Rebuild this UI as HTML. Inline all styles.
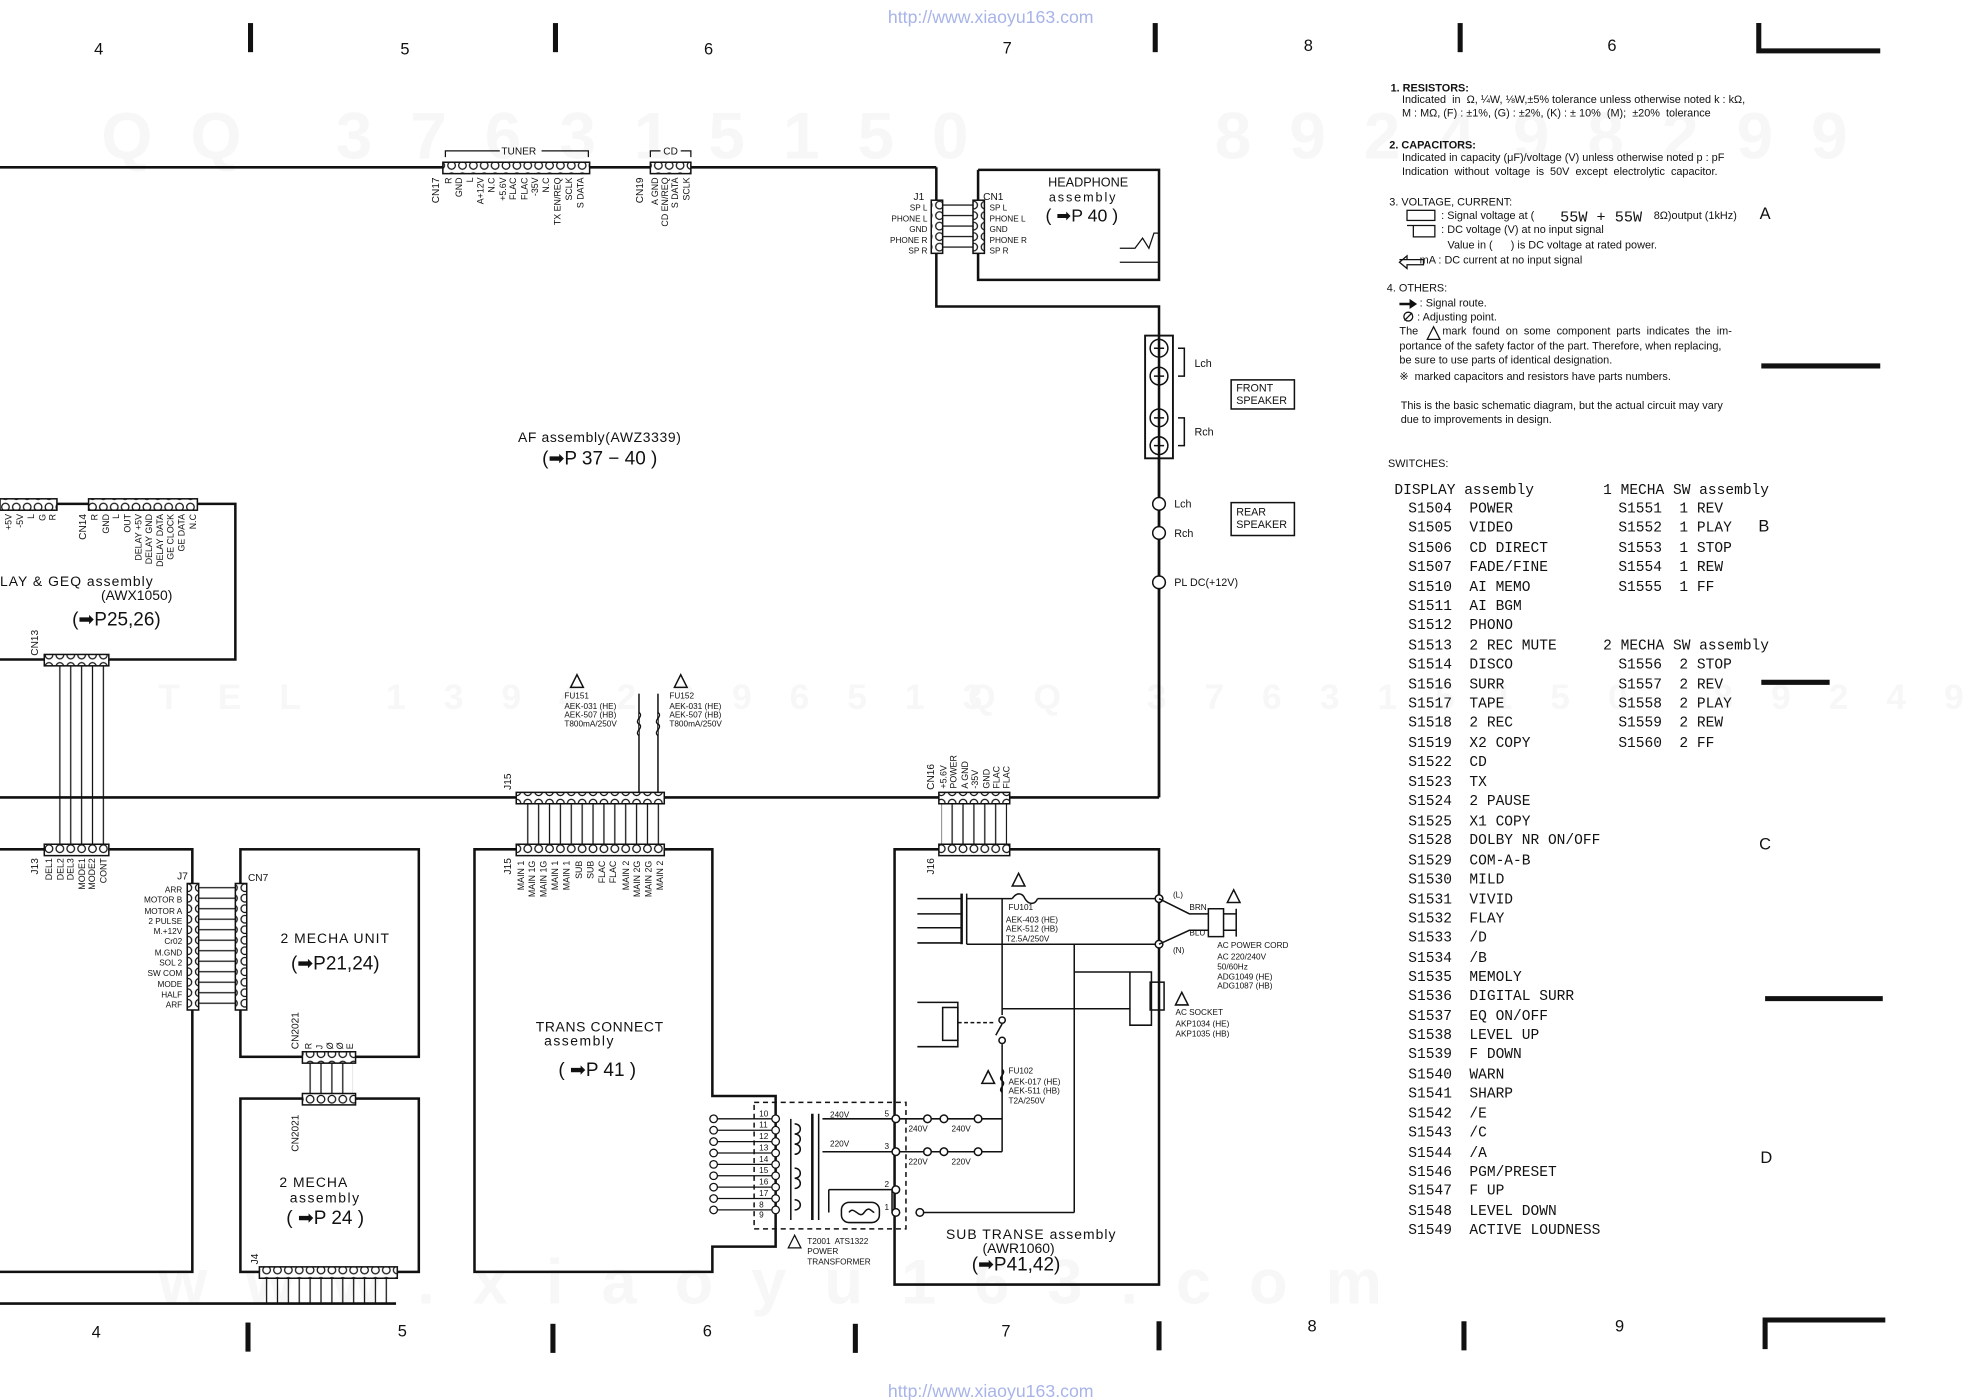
<!DOCTYPE html>
<html><head><meta charset="utf-8"><style>
html,body{margin:0;padding:0;background:#fff;}
svg{display:block;}
text{font-family:"Liberation Sans",sans-serif;fill:#111;white-space:pre;}
text.m{font-family:"Liberation Mono",monospace;}
</style></head><body>
<svg width="1984" height="1400" viewBox="0 0 1568 1106" xmlns="http://www.w3.org/2000/svg" xml:space="preserve">
<defs>
<pattern id="ph" x="0" y="0" width="8.6" height="9" patternUnits="userSpaceOnUse"><rect width="8.6" height="9" fill="#fff"/><circle cx="4.3" cy="4.5" r="3" fill="none" stroke="#111" stroke-width="1"/></pattern>
<pattern id="pv" x="0" y="0" width="9" height="8.3" patternUnits="userSpaceOnUse"><rect width="9" height="8.3" fill="#fff"/><circle cx="4.5" cy="4.15" r="3" fill="none" stroke="#111" stroke-width="1"/></pattern>
<pattern id="wv" x="0" y="0" width="8.6" height="10" patternUnits="userSpaceOnUse"><line x1="4.3" y1="0" x2="4.3" y2="10" stroke="#111" stroke-width="1"/></pattern>
<pattern id="wh" x="0" y="0" width="10" height="8.3" patternUnits="userSpaceOnUse"><line x1="0" y1="4.15" x2="10" y2="4.15" stroke="#111" stroke-width="1"/></pattern>
</defs>
<rect width="1568" height="1106" fill="#fff"/>
<!-- watermarks -->
<g font-weight="bold">
<text x="80" y="125" style="fill:#f7f7f7;font-size:52px;letter-spacing:30px">QQ 376315150</text>
<text x="960" y="125" style="fill:#f7f7f7;font-size:52px;letter-spacing:30px">892498299</text>
<text x="125" y="560" style="fill:#f7f7f7;font-size:28px;letter-spacing:30px">TEL 13942296513</text>
<text x="765" y="560" style="fill:#f7f7f7;font-size:28px;letter-spacing:30px">QQ 376315150 892498299</text>
<text x="125" y="1030" style="fill:#f7f7f7;font-size:50px;letter-spacing:30px">www.xiaoyu163.com</text>
</g>
<!-- URLs -->
<text x="783" y="18" font-size="14" text-anchor="middle" style="fill:#a8b4e8">http://www.xiaoyu163.com</text>
<text x="783" y="1104" font-size="14" text-anchor="middle" style="fill:#a8b4e8">http://www.xiaoyu163.com</text>
<!-- frame ticks -->
<g stroke="#111" stroke-width="4">
<line x1="198" y1="18" x2="198" y2="41"/><line x1="439" y1="18" x2="439" y2="41"/><line x1="913" y1="18" x2="913" y2="41"/><line x1="1154" y1="18" x2="1154" y2="41"/>
<polyline points="1390,18 1390,40 1486,40" fill="none"/>
<line x1="196" y1="1045" x2="196" y2="1068"/><line x1="437" y1="1046" x2="437" y2="1069"/><line x1="676" y1="1046" x2="676" y2="1069"/><line x1="916" y1="1044" x2="916" y2="1067"/><line x1="1157" y1="1044" x2="1157" y2="1067"/>
<polyline points="1395,1066 1395,1043 1490,1043" fill="none"/>
<line x1="1392" y1="289" x2="1486" y2="289"/><line x1="1392" y1="539" x2="1446" y2="539"/><line x1="1395" y1="789" x2="1488" y2="789"/>
</g>
<g font-size="13" text-anchor="middle">
<text x="78" y="43">4</text><text x="320" y="43">5</text><text x="560" y="43">6</text><text x="796" y="42">7</text><text x="1034" y="40">8</text><text x="1274" y="40">6</text>
<text x="76" y="1057">4</text><text x="318" y="1056">5</text><text x="559" y="1056">6</text><text x="795" y="1056">7</text><text x="1037" y="1052">8</text><text x="1280" y="1052">9</text>
<text x="1395" y="173">A</text><text x="1394" y="420">B</text><text x="1395" y="671">C</text><text x="1396" y="919">D</text>
</g>

<g stroke="#111" fill="none" stroke-width="2">
<line x1="0" y1="132" x2="740" y2="132"/>
<polyline points="740,132 740,242 916,242 916,630"/>
<line x1="0" y1="630" x2="916" y2="630"/>
<polyline points="773,134 916,134 916,221 773,221 773,134"/>
<polyline points="0,398 186,398 186,521 0,521"/>
<polyline points="0,671 152,671 152,1005 0,1005"/>
<rect x="190" y="671" width="141" height="164"/>
<rect x="190" y="868" width="141" height="137"/>
<line x1="0" y1="1030" x2="313" y2="1030"/>
<polygon points="375,671 563,671 563,866 613,866 613,985 563,985 563,1005 375,1005"/>
<polygon points="707,671 916,671 916,1015 707,1015"/>
</g>

<g stroke="#111" stroke-width="1.2">
<rect x="350" y="128" width="116" height="9" fill="url(#ph)"/>
<rect x="514" y="128" width="32" height="9" fill="url(#ph)"/>
<rect x="0" y="394" width="45" height="9" fill="url(#ph)"/>
<rect x="70" y="394" width="86" height="9" fill="url(#ph)"/>
<rect x="35" y="517" width="51" height="9" fill="url(#ph)"/>
<rect x="35" y="667" width="51" height="9" fill="url(#ph)"/>
<rect x="40" y="526" width="43" height="141" fill="url(#wv)" stroke="none"/>
<rect x="408" y="626" width="117" height="9" fill="url(#ph)"/>
<rect x="408" y="667" width="117" height="9" fill="url(#ph)"/>
<rect x="410" y="635" width="114" height="32" fill="url(#wv)" stroke="none"/>
<rect x="742" y="626" width="56" height="9" fill="url(#ph)"/>
<rect x="742" y="667" width="56" height="9" fill="url(#ph)"/>
<rect x="744" y="635" width="52" height="32" fill="url(#wv)" stroke="none"/>
<rect x="239" y="831" width="42" height="9" fill="url(#ph)"/>
<rect x="239" y="864" width="42" height="9" fill="url(#ph)"/>
<rect x="241" y="840" width="38" height="24" fill="url(#wv)" stroke="none"/>
<rect x="205" y="1001" width="109" height="9" fill="url(#ph)"/>
<rect x="207" y="1010" width="104" height="20" fill="url(#wv)" stroke="none"/>
<rect x="736" y="158" width="9" height="42" fill="url(#pv)"/>
<rect x="769" y="158" width="9" height="42" fill="url(#pv)"/>
<rect x="745" y="158" width="24" height="42" fill="url(#wh)" stroke="none"/>
<rect x="148" y="698" width="9" height="100" fill="url(#pv)"/>
<rect x="186" y="698" width="9" height="100" fill="url(#pv)"/>
<rect x="157" y="698" width="29" height="100" fill="url(#wh)" stroke="none"/>
</g>

<g stroke="#111" fill="none" stroke-width="1">
<polyline points="352,124 352,119 395,119"/><polyline points="428,119 465,119 465,124"/>
<polyline points="514,124 514,119 522,119"/><polyline points="538,119 546,119 546,124"/>
</g>
<text x="410" y="122" font-size="8" text-anchor="middle">TUNER</text>
<text x="530" y="122" font-size="8" text-anchor="middle">CD</text>

<g font-size="7" text-anchor="end">
<text transform="translate(347,140) rotate(-90)" font-size="8">CN17</text>
<text transform="translate(357,140) rotate(-90)">R</text>
<text transform="translate(365,140) rotate(-90)">GND</text>
<text transform="translate(374,140) rotate(-90)">L</text>
<text transform="translate(382,140) rotate(-90)">A+12V</text>
<text transform="translate(391,140) rotate(-90)">N.C</text>
<text transform="translate(400,140) rotate(-90)">+5.6V</text>
<text transform="translate(408,140) rotate(-90)">FLAC</text>
<text transform="translate(417,140) rotate(-90)">FLAC</text>
<text transform="translate(425,140) rotate(-90)">-35V</text>
<text transform="translate(434,140) rotate(-90)">N.C</text>
<text transform="translate(443,140) rotate(-90)">TX EN/REQ</text>
<text transform="translate(452,140) rotate(-90)">SCLK</text>
<text transform="translate(461,140) rotate(-90)">S DATA</text>
<text transform="translate(508,140) rotate(-90)" font-size="8">CN19</text>
<text transform="translate(520,140) rotate(-90)">A GND</text>
<text transform="translate(528,140) rotate(-90)">CD EN/REQ</text>
<text transform="translate(536,140) rotate(-90)">S DATA</text>
<text transform="translate(545,140) rotate(-90)">SCLK</text>
<text transform="translate(9,406) rotate(-90)">+5V</text>
<text transform="translate(18,406) rotate(-90)">-5V</text>
<text transform="translate(27,406) rotate(-90)">L</text>
<text transform="translate(36,406) rotate(-90)">G</text>
<text transform="translate(44,406) rotate(-90)">R</text>
<text transform="translate(68,406) rotate(-90)" font-size="8">CN14</text>
<text transform="translate(77,406) rotate(-90)">R</text>
<text transform="translate(86,406) rotate(-90)">GND</text>
<text transform="translate(94,406) rotate(-90)">L</text>
<text transform="translate(103,406) rotate(-90)">OUT</text>
<text transform="translate(112,406) rotate(-90)">DELAY +5V</text>
<text transform="translate(120,406) rotate(-90)">DELAY GND</text>
<text transform="translate(129,406) rotate(-90)">DELAY DATA</text>
<text transform="translate(137,406) rotate(-90)">GE CLOCK</text>
<text transform="translate(146,406) rotate(-90)">GE DATA</text>
<text transform="translate(155,406) rotate(-90)">N.C</text>
<text transform="translate(30,678) rotate(-90)" font-size="8">J13</text>
<text transform="translate(41,678) rotate(-90)">DEL1</text>
<text transform="translate(50,678) rotate(-90)">DEL2</text>
<text transform="translate(58,678) rotate(-90)">DEL3</text>
<text transform="translate(67,678) rotate(-90)">MODE1</text>
<text transform="translate(75,678) rotate(-90)">MODE2</text>
<text transform="translate(84,678) rotate(-90)">CONT</text>
<text transform="translate(404,678) rotate(-90)" font-size="8">J15</text>
<text transform="translate(414,680) rotate(-90)">MAIN 1</text>
<text transform="translate(423,680) rotate(-90)">MAIN 1G</text>
<text transform="translate(432,680) rotate(-90)">MAIN 1G</text>
<text transform="translate(441,680) rotate(-90)">MAIN 1</text>
<text transform="translate(450,680) rotate(-90)">MAIN 1</text>
<text transform="translate(460,680) rotate(-90)">SUB</text>
<text transform="translate(469,680) rotate(-90)">SUB</text>
<text transform="translate(478,680) rotate(-90)">FLAC</text>
<text transform="translate(487,680) rotate(-90)">FLAC</text>
<text transform="translate(497,680) rotate(-90)">MAIN 2</text>
<text transform="translate(506,680) rotate(-90)">MAIN 2G</text>
<text transform="translate(515,680) rotate(-90)">MAIN 2G</text>
<text transform="translate(524,680) rotate(-90)">MAIN 2</text>
<text transform="translate(738,678) rotate(-90)" font-size="8">J16</text>
<text transform="translate(236,910) rotate(-90)" font-size="8" text-anchor="start">CN2021</text>
</g>
<g font-size="7" text-anchor="start">
<text transform="translate(30,518) rotate(-90)" font-size="8">CN13</text>
<text transform="translate(404,624) rotate(-90)" font-size="8">J15</text>
<text transform="translate(738,624) rotate(-90)" font-size="8">CN16</text>
<text transform="translate(748,623) rotate(-90)">+5.6V</text>
<text transform="translate(756,623) rotate(-90)">POWER</text>
<text transform="translate(765,623) rotate(-90)">A GND</text>
<text transform="translate(773,623) rotate(-90)">-35V</text>
<text transform="translate(782,623) rotate(-90)">GND</text>
<text transform="translate(790,623) rotate(-90)">FLAC</text>
<text transform="translate(798,623) rotate(-90)">FLAC</text>
<text transform="translate(236,829) rotate(-90)" font-size="8">CN2021</text>
<text transform="translate(246,829) rotate(-90)">R</text>
<text transform="translate(255,829) rotate(-90)">J</text>
<text transform="translate(263,829) rotate(-90)">Ø</text>
<text transform="translate(271,829) rotate(-90)">Ø</text>
<text transform="translate(279,829) rotate(-90)">E</text>
<text transform="translate(204,999) rotate(-90)" font-size="8">J4</text>
</g>

<g font-size="6.5">
<text x="722" y="158" font-size="8">J1</text>
<text x="777" y="158" font-size="8">CN1</text>
<g text-anchor="end"><text x="733" y="166">SP L</text><text x="733" y="175">PHONE L</text><text x="733" y="183">GND</text><text x="733" y="192">PHONE R</text><text x="733" y="200">SP R</text></g>
<text x="782" y="166">SP L</text><text x="782" y="175">PHONE L</text><text x="782" y="183">GND</text><text x="782" y="192">PHONE R</text><text x="782" y="200">SP R</text>
</g>
<text x="860" y="147" font-size="10" text-anchor="middle">HEADPHONE</text>
<text x="856" y="159" font-size="10" text-anchor="middle" letter-spacing="1.5">assembly</text>
<text x="855" y="175" font-size="14" text-anchor="middle">( ➡P 40 )</text>
<polyline points="885,196 897,196 903,188 908,196 912,184 916,184" fill="none" stroke="#111"/>
<line x1="885" y1="207" x2="916" y2="207" stroke="#111"/>

<rect x="905" y="265" width="22" height="97" fill="none" stroke="#111" stroke-width="1.5"/>
<g fill="none" stroke="#111" stroke-width="1.2">
<circle cx="916" cy="275" r="7"/><circle cx="916" cy="297" r="7"/><circle cx="916" cy="330" r="7"/><circle cx="916" cy="352" r="7"/>
<path d="M912 275h8M916 271v8M912 297h8M912 330h8M912 352h8M916 348v8"/>
<polyline points="931,275 936,275 936,297 931,297"/><polyline points="931,330 936,330 936,352 931,352"/>
<line x1="916" y1="362" x2="916" y2="630" stroke-width="2"/>
<circle cx="916" cy="398" r="5" fill="#fff"/><circle cx="916" cy="421" r="5" fill="#fff"/><circle cx="916" cy="460" r="5" fill="#fff"/>
<rect x="973" y="300" width="50" height="23"/><rect x="973" y="397" width="50" height="26"/>
</g>
<g font-size="8.5"><text x="944" y="290">Lch</text><text x="944" y="344">Rch</text><text x="928" y="401">Lch</text><text x="928" y="424">Rch</text><text x="928" y="463">PL DC(+12V)</text>
<text x="977" y="309">FRONT</text><text x="977" y="319">SPEAKER</text><text x="977" y="407">REAR</text><text x="977" y="417">SPEAKER</text></g>

<text x="474" y="349" font-size="11" text-anchor="middle" letter-spacing="0.5">AF assembly(AWZ3339)</text>
<text x="474" y="367" font-size="15" text-anchor="middle">(➡P 37 − 40 )</text>
<text x="0" y="463" font-size="11" letter-spacing="0.8">LAY &amp; GEQ assembly</text>
<text x="108" y="474" font-size="11" text-anchor="middle">(AWX1050)</text>
<text x="92" y="494" font-size="15" text-anchor="middle">(➡P25,26)</text>
<text x="265" y="745" font-size="11" text-anchor="middle" letter-spacing="0.8">2 MECHA UNIT</text>
<text x="265" y="766" font-size="15" text-anchor="middle">(➡P21,24)</text>
<text x="248" y="938" font-size="11" text-anchor="middle" letter-spacing="0.8">2 MECHA</text>
<text x="257" y="950" font-size="11" text-anchor="middle" letter-spacing="1.2">assembly</text>
<text x="257" y="967" font-size="15" text-anchor="middle">( ➡P 24 )</text>
<text x="474" y="815" font-size="11" text-anchor="middle" letter-spacing="0.5">TRANS CONNECT</text>
<text x="458" y="826" font-size="11" text-anchor="middle" letter-spacing="1.2">assembly</text>
<text x="472" y="850" font-size="15" text-anchor="middle">( ➡P 41 )</text>
<text x="815" y="979" font-size="11" text-anchor="middle" letter-spacing="0.8">SUB TRANSE assembly</text>
<text x="805" y="990" font-size="11" text-anchor="middle">(AWR1060)</text>
<text x="803" y="1004" font-size="15" text-anchor="middle">(➡P41,42)</text>

<g font-size="6.5" text-anchor="end">
<text x="144" y="705">ARR</text><text x="144" y="713">MOTOR B</text><text x="144" y="722">MOTOR A</text><text x="144" y="730">2 PULSE</text><text x="144" y="738">M.+12V</text><text x="144" y="746">Cr02</text><text x="144" y="755">M.GND</text><text x="144" y="763">SOL 2</text><text x="144" y="771">SW COM</text><text x="144" y="780">MODE</text><text x="144" y="788">HALF</text><text x="144" y="796">ARF</text>
</g>
<text x="140" y="695" font-size="8">J7</text><text x="196" y="696" font-size="8">CN7</text>

<g stroke="#111" fill="none" stroke-width="1.2">
<line x1="505" y1="548" x2="505" y2="626"/><line x1="520" y1="548" x2="520" y2="626"/>
<path d="M505 563c4 3 -4 6 0 9c4 3 -4 6 0 9M520 563c4 3 -4 6 0 9c4 3 -4 6 0 9" fill="#fff"/>
<path d="M456 533l-5 10h10z M538 533l-5 10h10z"/>
</g>
<g font-size="6.5"><text x="446" y="552">FU151</text><text x="446" y="560">AEK-031 (HE)</text><text x="446" y="567">AEK-507 (HB)</text><text x="446" y="574">T800mA/250V</text>
<text x="529" y="552">FU152</text><text x="529" y="560">AEK-031 (HE)</text><text x="529" y="567">AEK-507 (HB)</text><text x="529" y="574">T800mA/250V</text></g>

<g stroke="#111" fill="none" stroke-width="1.2">
<line x1="725" y1="710" x2="760" y2="710"/><line x1="725" y1="722" x2="760" y2="722"/><line x1="725" y1="733" x2="760" y2="733"/><line x1="725" y1="745" x2="760" y2="745"/>
<line x1="760" y1="706" x2="760" y2="746" stroke-width="2"/><line x1="764" y1="706" x2="764" y2="746"/>
<polyline points="764,710 800,710"/><path d="M800 710c3 -5 8 -5 10 0c3 5 8 5 10 0"/><line x1="820" y1="710" x2="916" y2="710"/>
<line x1="764" y1="746" x2="916" y2="746"/>
<circle cx="916" cy="710" r="3" fill="#fff"/><circle cx="916" cy="746" r="3" fill="#fff"/>
<polyline points="916,710 940,722 955,722"/><polyline points="916,746 940,735 955,735"/>
<path d="M955 718h12v22h-12zM967 722h10M967 735h10M977 718v22"/>
<path d="M975 703l-5 10h10z M805 690l-5 10h10z M934 784l-5 10h10z M781 846l-5 10h10z"/>
<line x1="792" y1="710" x2="792" y2="802"/><line x1="849" y1="746" x2="849" y2="958"/>
<line x1="849" y1="768" x2="893" y2="768"/><line x1="792" y1="797" x2="893" y2="797"/>
<polyline points="893,768 893,810 910,810 910,768 893,768"/><rect x="909" y="776" width="11" height="22"/>
<polyline points="725,792 757,792 757,827 725,827"/><rect x="745" y="796" width="12" height="26"/>
<line x1="757" y1="808" x2="785" y2="808" stroke-dasharray="3 2"/>
<circle cx="792" cy="806" r="2.5"/><line x1="792" y1="809" x2="787" y2="818"/><circle cx="792" cy="822" r="2.5"/>
<line x1="792" y1="825" x2="792" y2="910"/>
<path d="M792 845c4 3 -4 6 0 9c4 3 -4 6 0 9"/>
<line x1="708" y1="884" x2="792" y2="884"/><line x1="708" y1="910" x2="792" y2="910"/>
<circle cx="733" cy="884" r="3" fill="#fff"/><circle cx="746" cy="884" r="3" fill="#fff"/><circle cx="773" cy="884" r="3" fill="#fff"/>
<circle cx="733" cy="910" r="3" fill="#fff"/><circle cx="746" cy="910" r="3" fill="#fff"/><circle cx="773" cy="910" r="3" fill="#fff"/>
<line x1="727" y1="958" x2="849" y2="958"/><circle cx="727" cy="958" r="3" fill="#fff"/>
<rect x="596" y="871" width="120" height="100" stroke-dasharray="4 3"/>
<line x1="642" y1="880" x2="642" y2="964" stroke-width="2"/><line x1="647" y1="880" x2="647" y2="964"/>
<path d="M625 884v80M650 884h58M650 910h58M655 940h50v18M655 940v18"/>
<rect x="665" y="950" width="30" height="16" rx="6"/>
<path d="M671 958c4 -6 8 6 12 0c4 -6 6 0 8 0"/>
<circle cx="708" cy="884" r="3" fill="#fff"/><circle cx="708" cy="910" r="3" fill="#fff"/><circle cx="708" cy="940" r="3" fill="#fff"/><circle cx="708" cy="958" r="3" fill="#fff"/>
<path d="M628 888c6 0 6 8 0 8c6 0 6 8 0 8c6 0 6 8 0 8M628 923c6 0 6 8 0 8c6 0 6 8 0 8M628 948c6 0 6 8 0 8"/>
</g>
<g stroke="#111" stroke-width="1" fill="#fff">
<circle cx="564" cy="884" r="3"/><circle cx="564" cy="893" r="3"/><circle cx="564" cy="902" r="3"/><circle cx="564" cy="911" r="3"/><circle cx="564" cy="920" r="3"/><circle cx="564" cy="929" r="3"/><circle cx="564" cy="938" r="3"/><circle cx="564" cy="947" r="3"/><circle cx="564" cy="956" r="3"/>
<circle cx="613" cy="884" r="3"/><circle cx="613" cy="893" r="3"/><circle cx="613" cy="902" r="3"/><circle cx="613" cy="911" r="3"/><circle cx="613" cy="920" r="3"/><circle cx="613" cy="929" r="3"/><circle cx="613" cy="938" r="3"/><circle cx="613" cy="947" r="3"/><circle cx="613" cy="956" r="3"/>
</g>
<g stroke="#111" stroke-width="1"><path d="M567 884h43M567 893h43M567 902h43M567 911h43M567 920h43M567 929h43M567 938h43M567 947h43M567 956h43"/></g>
<g font-size="6.5">
<text x="600" y="882">10</text><text x="600" y="891">11</text><text x="600" y="900">12</text><text x="600" y="909">13</text><text x="600" y="918">14</text><text x="600" y="927">15</text><text x="600" y="936">16</text><text x="600" y="945">17</text><text x="600" y="954">8</text><text x="600" y="962">9</text>
<text x="656" y="883">240V</text><text x="656" y="906">220V</text><text x="699" y="882">5</text><text x="699" y="908">3</text><text x="699" y="938">2</text><text x="699" y="956">1</text>
<text x="718" y="894">240V</text><text x="752" y="894">240V</text><text x="718" y="920">220V</text><text x="752" y="920">220V</text>
<text x="638" y="983">T2001  ATS1322</text><text x="638" y="991">POWER</text><text x="638" y="999">TRANSFORMER</text>
<text x="797" y="719">FU101</text><text x="795" y="729">AEK-403 (HE)</text><text x="795" y="736">AEK-512 (HB)</text><text x="795" y="744">T2.5A/250V</text>
<text x="797" y="848">FU102</text><text x="797" y="857">AEK-017 (HE)</text><text x="797" y="864">AEK-511 (HB)</text><text x="797" y="872">T2A/250V</text>
<text x="927" y="709">(L)</text><text x="927" y="753">(N)</text><text x="940" y="719">BRN</text><text x="940" y="739">BLU</text>
<text x="962" y="749">AC POWER CORD</text><text x="962" y="758">AC 220/240V</text><text x="962" y="766">50/60Hz</text><text x="962" y="774">ADG1049 (HE)</text><text x="962" y="781">ADG1087 (HB)</text>
<text x="929" y="802">AC SOCKET</text><text x="929" y="811">AKP1034 (HE)</text><text x="929" y="819">AKP1035 (HB)</text>
</g>
<path d="M628 976l-5 10h10z" fill="none" stroke="#111"/>

<g font-size="8.6">
<text x="1099" y="72" font-weight="bold">1. RESISTORS:</text>
<text x="1108" y="81">Indicated  in  Ω, ¼W, ⅛W,±5% tolerance unless otherwise noted k : kΩ,</text>
<text x="1108" y="92">M : MΩ, (F) : ±1%, (G) : ±2%, (K) : ± 10%  (M);  ±20%  tolerance</text>
<text x="1098" y="117" font-weight="bold">2. CAPACITORS:</text>
<text x="1108" y="127">Indicated in capacity (μF)/voltage (V) unless otherwise noted p : pF</text>
<text x="1108" y="138">Indication  without  voltage  is  50V  except  electrolytic  capacitor.</text>
<text x="1098" y="162">3. VOLTAGE, CURRENT:</text>
<text x="1139" y="173">: Signal voltage at (</text><text x="1233" y="175" font-size="12" class="m">55W + 55W</text><text x="1307" y="173">8Ω)output (1kHz)</text>
<text x="1139" y="184">: DC voltage (V) at no input signal</text>
<text x="1144" y="196">Value in (      ) is DC voltage at rated power.</text>
<text x="1122" y="208">mA : DC current at no input signal</text>
<text x="1096" y="230">4. OTHERS:</text>
<text x="1122" y="242">: Signal route.</text>
<text x="1120" y="253">: Adjusting point.</text>
<text x="1106" y="264">The        mark  found  on  some  component  parts  indicates  the  im-</text>
<text x="1106" y="276">portance of the safety factor of the part. Therefore, when replacing,</text>
<text x="1106" y="287">be sure to use parts of identical designation.</text>
<text x="1106" y="300">※  marked capacitors and resistors have parts numbers.</text>
<text x="1107" y="323">This is the basic schematic diagram, but the actual circuit may vary</text>
<text x="1107" y="334">due to improvements in design.</text>
<text x="1097" y="369">SWITCHES:</text>
</g>
<g stroke="#111" fill="none" stroke-width="1">
<rect x="1112" y="166" width="22" height="8"/><polyline points="1112,178 1134,178 1134,187 1117,187 1117,178"/>
<path d="M1106 205h6v-3l-6 5 6 5v-3h13v-4h-13"/>
<path d="M1133 258l-5 10h10z"/><circle cx="1113" cy="250" r="3.5"/><line x1="1110" y1="253" x2="1116" y2="247"/>
</g>
<path d="M1106 239h8v-3l6 4-6 4v-3h-8z" fill="#111"/>

<g font-size="11.5">
<text class="m" x="1102" y="390">DISPLAY assembly</text>
<text class="m" x="1267" y="390">1 MECHA SW assembly</text>
<text class="m" x="1267" y="513">2 MECHA SW assembly</text>
<text class="m" x="1113" y="405">S1504  POWER</text>
<text class="m" x="1113" y="420">S1505  VIDEO</text>
<text class="m" x="1113" y="436">S1506  CD DIRECT</text>
<text class="m" x="1113" y="451">S1507  FADE/FINE</text>
<text class="m" x="1113" y="467">S1510  AI MEMO</text>
<text class="m" x="1113" y="482">S1511  AI BGM</text>
<text class="m" x="1113" y="497">S1512  PHONO</text>
<text class="m" x="1113" y="513">S1513  2 REC MUTE</text>
<text class="m" x="1113" y="528">S1514  DISCO</text>
<text class="m" x="1113" y="544">S1516  SURR</text>
<text class="m" x="1113" y="559">S1517  TAPE</text>
<text class="m" x="1113" y="574">S1518  2 REC</text>
<text class="m" x="1113" y="590">S1519  X2 COPY</text>
<text class="m" x="1113" y="605">S1522  CD</text>
<text class="m" x="1113" y="621">S1523  TX</text>
<text class="m" x="1113" y="636">S1524  2 PAUSE</text>
<text class="m" x="1113" y="652">S1525  X1 COPY</text>
<text class="m" x="1113" y="667">S1528  DOLBY NR ON/OFF</text>
<text class="m" x="1113" y="683">S1529  COM-A-B</text>
<text class="m" x="1113" y="698">S1530  MILD</text>
<text class="m" x="1113" y="714">S1531  VIVID</text>
<text class="m" x="1113" y="729">S1532  FLAY</text>
<text class="m" x="1113" y="744">S1533  /D</text>
<text class="m" x="1113" y="760">S1534  /B</text>
<text class="m" x="1113" y="775">S1535  MEMOLY</text>
<text class="m" x="1113" y="790">S1536  DIGITAL SURR</text>
<text class="m" x="1113" y="806">S1537  EQ ON/OFF</text>
<text class="m" x="1113" y="821">S1538  LEVEL UP</text>
<text class="m" x="1113" y="836">S1539  F DOWN</text>
<text class="m" x="1113" y="852">S1540  WARN</text>
<text class="m" x="1113" y="867">S1541  SHARP</text>
<text class="m" x="1113" y="883">S1542  /E</text>
<text class="m" x="1113" y="898">S1543  /C</text>
<text class="m" x="1113" y="914">S1544  /A</text>
<text class="m" x="1113" y="929">S1546  PGM/PRESET</text>
<text class="m" x="1113" y="944">S1547  F UP</text>
<text class="m" x="1113" y="960">S1548  LEVEL DOWN</text>
<text class="m" x="1113" y="975">S1549  ACTIVE LOUDNESS</text>
<text class="m" x="1279" y="405">S1551  1 REV</text>
<text class="m" x="1279" y="420">S1552  1 PLAY</text>
<text class="m" x="1279" y="436">S1553  1 STOP</text>
<text class="m" x="1279" y="451">S1554  1 REW</text>
<text class="m" x="1279" y="467">S1555  1 FF</text>
<text class="m" x="1279" y="528">S1556  2 STOP</text>
<text class="m" x="1279" y="544">S1557  2 REV</text>
<text class="m" x="1279" y="559">S1558  2 PLAY</text>
<text class="m" x="1279" y="574">S1559  2 REW</text>
<text class="m" x="1279" y="590">S1560  2 FF</text>
</g>
</svg>
</body></html>
